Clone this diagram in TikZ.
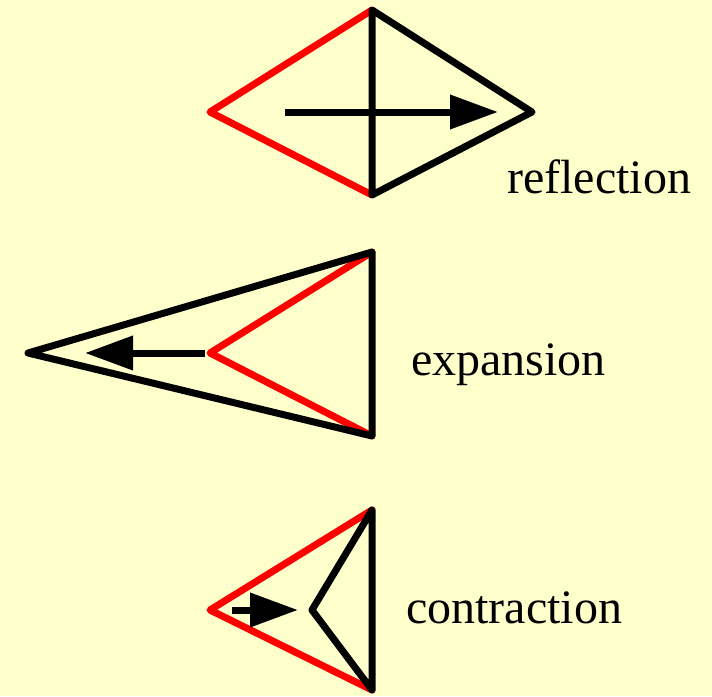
\documentclass[tikz,border=0pt]{standalone}
\usepackage{fontspec}
\setmainfont{Liberation Serif}
\usetikzlibrary{arrows.meta}
\definecolor{bgyellow}{HTML}{FFFFCC}
\definecolor{simred}{HTML}{FF0000}
\begin{document}
\begin{tikzpicture}[x=1pt,y=-1pt,
  edge/.style={line width=7pt,line join=round,line cap=round},
  redge/.style={edge,draw=simred},
  bedge/.style={edge,draw=black},
  move/.style={line width=7pt,-{Triangle[length=48pt,width=33pt]}},
  lbl/.style={anchor=base west,inner sep=0pt,font=\fontsize{48}{50}\selectfont}]
\fill[bgyellow] (0,0) rectangle (712,696);
\useasboundingbox (0,0) rectangle (712,696);
% reflection
\coordinate (rL) at (210,112);
\coordinate (rT) at (372,10);
\coordinate (rB) at (372,195);
\coordinate (rR) at (532,112);
\coordinate (rA) at (285,112);
\coordinate (rH) at (498,112);
\draw[redge] (rT) -- (rL) -- (rB);
\draw[bedge] (rT) -- (rR) -- (rB) -- cycle;
\draw[move] (rA) -- (rH);
\node[lbl] (reflection) at (507,193) {reflection};
% expansion
\coordinate (eL) at (210,353);
\coordinate (eT) at (372,252);
\coordinate (eB) at (372,436);
\coordinate (eF) at (28,353);
\coordinate (eA) at (205,353);
\coordinate (eH) at (85,353);
\draw[redge] (eT) -- (eL) -- (eB);
\draw[bedge] (eT) -- (eF) -- (eB) -- cycle;
\draw[move] (eA) -- (eH);
\node[lbl] (expansion) at (411,375) {expansion};
% contraction
\coordinate (cL) at (210,610);
\coordinate (cT) at (372,510);
\coordinate (cB) at (372,690);
\coordinate (cI) at (312,610);
\coordinate (cA) at (232,610);
\coordinate (cH) at (298,610);
\draw[redge] (cT) -- (cL) -- (cB);
\draw[bedge] (cT) -- (cI) -- (cB) -- cycle;
\draw[move] (cA) -- (cH);
\node[lbl] (contraction) at (406,623) {contraction};
\end{tikzpicture}
\end{document}
